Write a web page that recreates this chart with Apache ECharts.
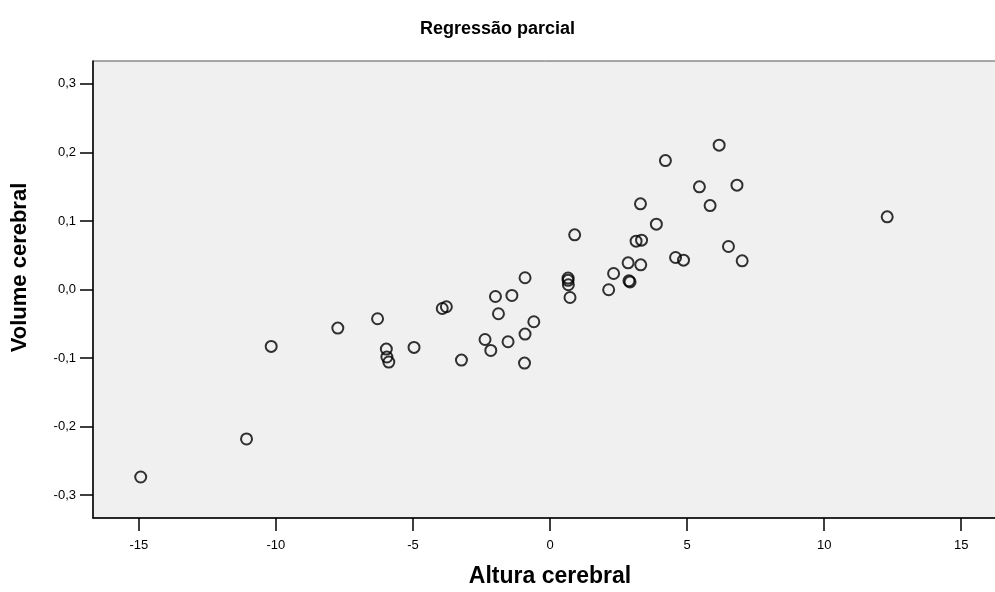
<!DOCTYPE html>
<html>
<head>
<meta charset="utf-8">
<script src="https://cdn.jsdelivr.net/npm/echarts@6/dist/echarts.min.js"></script>
<style>
html,body{margin:0;padding:0;background:#fff;}
#chart{width:995px;height:592px;}
</style>
</head>
<body>
<div id="chart"></div>
<script>
// Data
var alturaCerebral = [
  -14.93, -11.07, -10.17, -7.74, -6.29, -5.97, -5.95, -5.88, -4.96, -3.93,
  -3.78, -3.23, -2.37, -2.16, -1.99, -1.88, -1.53, -1.39, -0.91, -0.91,
  -0.93, -0.59, 0.66, 0.66, 0.67, 0.73, 0.90, 2.14, 2.32, 2.85,
  2.88, 2.92, 3.14, 3.34, 3.31, 3.30, 3.88, 4.21, 4.58, 4.87,
  6.17, 5.45, 6.82, 5.84, 6.51, 7.01, 12.30
];
var volumeCerebral = [
  -0.2735, -0.218, -0.083, -0.0563, -0.0427, -0.0869, -0.0985, -0.1058, -0.0845, -0.0277,
  -0.0252, -0.103, -0.0729, -0.0889, -0.0102, -0.0354, -0.0762, -0.0087, 0.0171, -0.065,
  -0.1073, -0.047, 0.0166, 0.0134, 0.0069, -0.0117, 0.0797, -0.0004, 0.0233, 0.0389,
  0.0127, 0.011, 0.0705, 0.072, 0.036, 0.1249, 0.0953, 0.188, 0.0467, 0.0428,
  0.2105, 0.1497, 0.1522, 0.1224, 0.0627, 0.0418, 0.106
];
var xTicks = [-15, -10, -5, 0, 5, 10, 15];
var yTicks = [-0.3, -0.2, -0.1, 0.0, 0.1, 0.2, 0.3];
var titleText = 'Regressão parcial';
var xName = 'Altura cerebral';
var yName = 'Volume cerebral';

var points = alturaCerebral.map(function (x, i) { return [x, volumeCerebral[i]]; });

var FONT = 'Liberation Sans, Arial, sans-serif';
var chart = echarts.init(document.getElementById('chart'), null, {renderer: 'canvas'});
chart.setOption({
  animation: false,
  backgroundColor: '#ffffff',
  title: {
    text: titleText,
    left: 'center',
    top: 15,
    textStyle: {fontFamily: FONT, fontSize: 18, fontWeight: 'bold', color: '#000'}
  },
  grid: {
    left: 93, right: -12, top: 61, bottom: 74,
    outerBoundsMode: 'none',
    containLabel: false,
    show: true,
    backgroundColor: '#f0f0f0',
    borderColor: '#555',
    borderWidth: 1
  },
  xAxis: {
    type: 'value',
    min: -16.67, max: 16.67,
    name: xName,
    nameLocation: 'middle',
    nameGap: 47,
    nameTextStyle: {fontFamily: FONT, fontSize: 23, fontWeight: 'bold', color: '#000'},
    axisLine: {show: true, onZero: false, lineStyle: {color: '#000', width: 1.5}},
    axisTick: {show: true, length: 13, customValues: xTicks, lineStyle: {color: '#000', width: 1.5}},
    axisLabel: {customValues: xTicks, margin: 21, fontFamily: FONT, fontSize: 13, color: '#000',
      formatter: function (v) { return String(Math.round(v)); }},
    splitLine: {show: false}
  },
  yAxis: {
    type: 'value',
    min: -0.3333, max: 0.3333,
    name: yName,
    nameLocation: 'middle',
    nameGap: 62,
    nameTextStyle: {fontFamily: FONT, fontSize: 22, fontWeight: 'bold', color: '#000', padding: [0, 0, 0, 44]},
    axisLine: {show: true, onZero: false, lineStyle: {color: '#000', width: 1.5}},
    axisTick: {show: true, length: 13, customValues: yTicks, lineStyle: {color: '#000', width: 1.5}},
    axisLabel: {customValues: yTicks, margin: 17, fontFamily: FONT, fontSize: 13, color: '#000',
      formatter: function (v) { return v.toFixed(1).replace('.', ',').replace('-0,0', '0,0'); }},
    splitLine: {show: false}
  },
  series: [{
    type: 'scatter',
    data: points,
    symbol: 'circle',
    symbolSize: 11,
    itemStyle: {color: 'rgba(0,0,0,0)', borderColor: '#000', borderWidth: 2}
  }]
});
</script>
</body>
</html>
